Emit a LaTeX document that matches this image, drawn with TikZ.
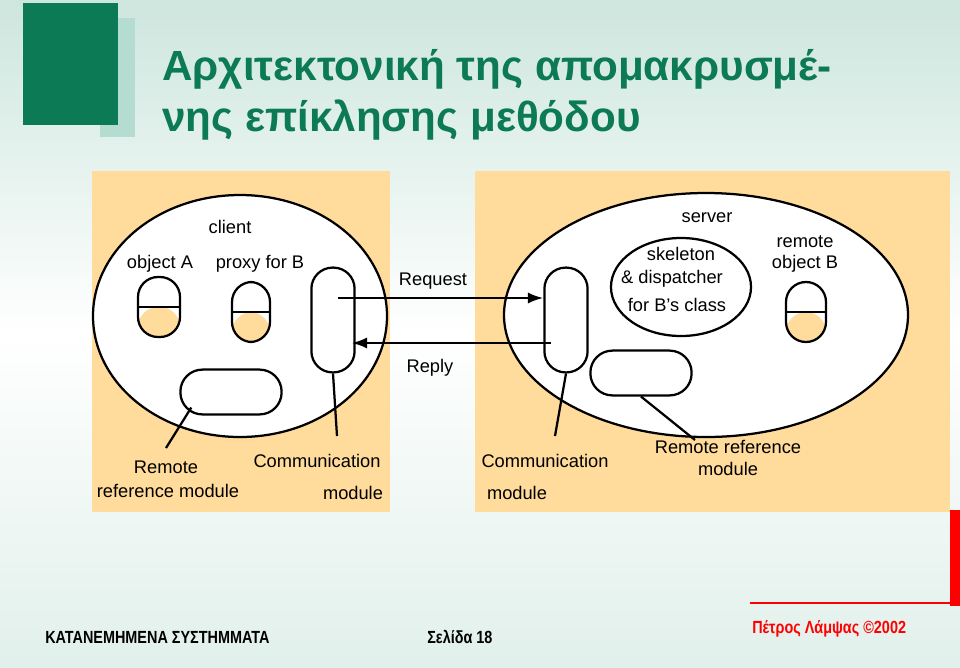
\documentclass[tikz,border=0pt]{standalone}
\usepackage{fontspec}
\setmainfont{Liberation Sans}
\newfontfamily\narrowfont[FakeStretch=0.82]{Liberation Sans}
\usetikzlibrary{arrows.meta,positioning,shapes.geometric}
\definecolor{slidegreen}{HTML}{0B7A55}
\definecolor{palegreen}{HTML}{B5DCD0}
\definecolor{paneltan}{HTML}{FFDB9C}
\definecolor{bgteal}{HTML}{CDE6DE}
\tikzset{
  lbl/.style={font=\fontsize{13}{15}\selectfont,inner sep=0pt,align=center},
  part/.style={draw,line width=1.6pt,fill=white},
  capsule/.style={part,rounded corners=0.5cm,inner sep=0pt},
  halfobj/.style={capsule,minimum width=1cm,minimum height=1.5cm,
    path picture={\fill[paneltan] (path picture bounding box.west) rectangle (path picture bounding box.south east);
      \draw[line width=1.6pt] (path picture bounding box.west)--(path picture bounding box.east);}},
  commod/.style={capsule,minimum width=1.08cm,minimum height=2.62cm,rounded corners=0.53cm},
  refmod/.style={capsule,minimum width=2.53cm,minimum height=1.12cm,rounded corners=0.55cm},
  leader/.style={line width=1.6pt},
  msg/.style={line width=1.6pt,-{Latex[length=11pt,width=8pt]}},
  foot/.style={font=\narrowfont\bfseries\fontsize{12.5}{14}\selectfont,anchor=base west,inner sep=0pt}
}
\begin{document}
\begin{tikzpicture}[x=0.025cm,y=-0.025cm]
  % background
  \useasboundingbox (0,0) rectangle (960,667);
  \shade[shading angle=45,top color=bgteal,bottom color=white!40!bgteal,middle color=white] (0,0) rectangle (960,667);

  % logo and title
  \fill[palegreen] (100,18) rectangle (135,137);
  \fill[slidegreen] (23,3) rectangle (118,125);
  \node[anchor=base west,inner sep=0pt,text=slidegreen,font=\bfseries\fontsize{30}{36}\selectfont,align=left]
    (title) at (162,131) {Αρχιτεκτονική της απομακρυσμέ-\\νης επίκλησης μεθόδου};

  % panels
  \fill[paneltan] (92,171) rectangle (390,512);
  \fill[paneltan] (475,171) rectangle (950,512);

  % client side
  \draw[line width=1.6pt,fill=white] (240,316) ellipse [x radius=147,y radius=121];
  \node[lbl] (client) at (230,227) {client};
  \node[lbl] (objAlbl) at (160,264) {object A};
  \node[lbl] (proxylbl) at (260,264) {proxy for B};
  \node[halfobj,minimum width=1.05cm] (objA) at (159,307) {};
  \node[halfobj,minimum width=0.95cm] (proxy) at (251,312) {};
  \node[commod] (cl) at (333,320) {};
  \node[refmod] (rl) at (231,392) {};
  \coordinate (rlend) at (166,448);
  \coordinate (clend) at (337,436);
  \draw[leader] (rl.south west) ++(12,-8) -- (rlend);
  \draw[leader] (cl.south) -- (clend);
  \node[lbl] (rlA) at (166,467) {Remote};
  \node[lbl] (rlB) at (168,491) {reference module};
  \node[lbl] (clA) at (317,461) {Communication};
  \node[lbl] (clB) at (353,493) {module};

  % server side
  \draw[line width=1.6pt,fill=white] (706,315) ellipse [x radius=202,y radius=122];
  \node[lbl] (server) at (707,218) {server};
  \node[part,ellipse,minimum width=3.5cm,minimum height=2.45cm,inner sep=0pt] (skel) at (681,287) {};
  \node[lbl] (skelA) at (681,254) {skeleton};
  \node[lbl] (skelB) at (672,279) {\& dispatcher};
  \node[lbl] (skelC) at (677,305) {for B’s class};
  \node[lbl] (objBlbl) at (805,254) {remote\\object B};
  \node[halfobj] (objB) at (806,312) {};
  \node[commod] (cr) at (566,320) {};
  \node[refmod] (rr) at (641,373) {};
  \coordinate (rrend) at (695,440);
  \coordinate (crend) at (555,436);
  \draw[leader] (rr.south) -- (rrend);
  \draw[leader] (cr.south) -- (crend);
  \node[lbl] (crA) at (545,461) {Communication};
  \node[lbl] (crB) at (517,493) {module};
  \node[lbl] (rrA) at (728,458) {Remote reference\\module};

  % messages
  \draw[msg] ([xshift=0.125cm,yshift=0.55cm]cl.center) -- ([yshift=0.55cm]cr.west);
  \draw[msg] ([xshift=0.2cm,yshift=-0.575cm]cr.west) -- ([xshift=-0.1cm,yshift=-0.575cm]cl.east);
  \node[lbl] (req) at (433,281) {Request};
  \node[lbl] (rep) at (430,368) {Reply};

  % footer
  \fill[red] (950,510) rectangle (960,606);
  \draw[red,line width=1pt] (750,603) -- (950,603);
  \node[foot] (course) at (45,643) {ΚΑΤΑΝΕΜΗΜΕΝΑ ΣΥΣΤΗΜΜΑΤΑ};
  \node[foot] (page) at (427,643) {Σελίδα 18};
  \node[foot,text=red] (author) at (752,633) {Πέτρος Λάμψας ©2002};
\end{tikzpicture}
\end{document}
